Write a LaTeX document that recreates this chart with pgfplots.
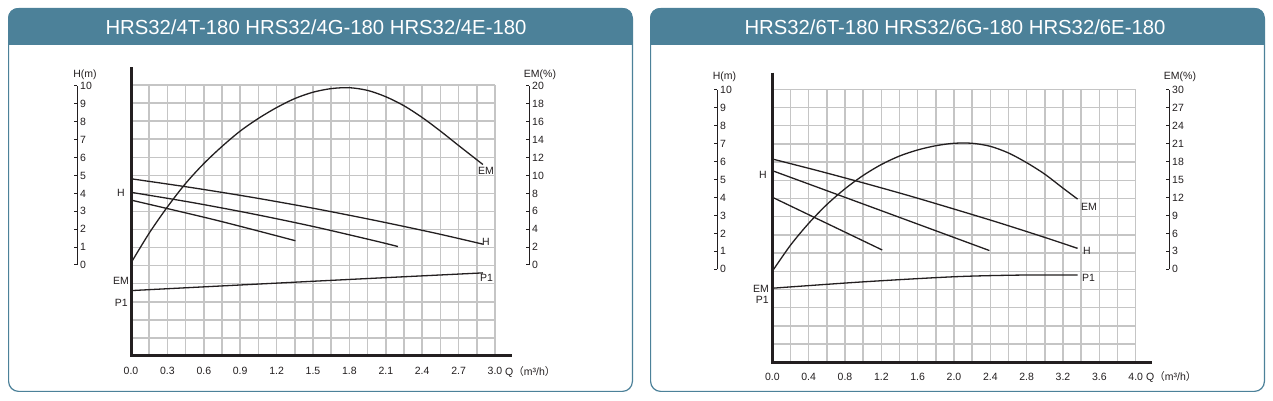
\documentclass[border=0pt]{standalone}
\usepackage{fontspec}
\setmainfont{Liberation Sans}
\newfontfamily\cjk{Noto Sans CJK SC}
\usepackage{pgfplots}
\pgfplotsset{compat=1.18}
\definecolor{hdr}{RGB}{76,129,153}
\definecolor{gridc}{RGB}{197,197,197}
\definecolor{ink}{RGB}{35,31,32}
\newcommand{\fs}{\fontsize{10.5}{12}\selectfont}
\newcommand{\ts}{\fontsize{20.3}{24}\selectfont}

\pgfplotsset{
  gridaxis/.style={
    scale only axis, anchor=south west, clip=false,
    ymin=-5, ymax=10, ytick={-5,-4,...,10}, yticklabels={},
    axis line style={draw=none},
    major tick length=0pt, minor tick length=0pt,
    grid=both, minor x tick num=1,
    major grid style={gridc, line width=1.5pt},
    minor grid style={gridc, line width=1.5pt},
    xticklabel style={font=\fs, inner sep=0pt, yshift=-11pt, text=ink},
  },
  emaxis/.style={scale only axis, anchor=south west, hide axis, clip=false},
  scaleaxis/.style={
    scale only axis, width=4pt, anchor=south east, hide x axis,
    axis y line*=right, tick align=inside, major tick length=3.5pt,
    xmin=0, xmax=1,
    y axis line style={ink, line width=1pt, -},
    ytick style={ink, line width=1pt},
    /pgf/number format/assume math mode=true,
    yticklabel style={font=\fs, inner sep=0pt, xshift=3pt, text=ink},
  },
  curve/.style={ink, line width=1.3pt, no marks, smooth},
}

\begin{document}
\begin{tikzpicture}[x=1pt, y=1pt]
\useasboundingbox (0,0) rectangle (1273,401);
\fill[white] (0,0) rectangle (1273,401);

% ---------- Panel frames ----------
\begin{scope}
  \clip[rounded corners=10pt] (8,9) rectangle (633,393);
  \fill[hdr] (8,356) rectangle (633,393);
\end{scope}
\draw[hdr, line width=1.2pt, rounded corners=10pt] (8.6,9.6) rectangle (632.4,392.4);
\node[text=white, font=\ts] at (316,374) {HRS32/4T-180 HRS32/4G-180 HRS32/4E-180};

\begin{scope}
  \clip[rounded corners=10pt] (650,9) rectangle (1265,393);
  \fill[hdr] (650,356) rectangle (1265,393);
\end{scope}
\draw[hdr, line width=1.2pt, rounded corners=10pt] (650.6,9.6) rectangle (1264.4,392.4);
\node[text=white, font=\ts] at (955,374) {HRS32/6T-180 HRS32/6G-180 HRS32/6E-180};

% ================= Panel 1 =================
\begin{axis}[gridaxis, at={(131pt,45pt)}, width=364pt, height=271pt,
  xmin=0, xmax=3,
  xtick={0,0.3,0.6,0.9,1.2,1.5,1.8,2.1,2.4,2.7,3.0},
  xticklabels={0.0,0.3,0.6,0.9,1.2,1.5,1.8,2.1,2.4,2.7,3.0}]
  % H curves
  \addplot[curve] coordinates {(0,4.81) (0.5,4.32) (1.0,3.78) (1.5,3.18) (2.0,2.52) (2.5,1.81) (2.9,1.19)};
  \addplot[curve] coordinates {(0,4.06) (0.5,3.50) (1.0,2.87) (1.5,2.17) (2.0,1.39) (2.2,1.06)};
  \addplot[curve] coordinates {(0,3.63) (0.7,2.52) (1.355,1.38)};
  % P1 curve
  \addplot[curve] coordinates {(0,-1.38) (1.6,-0.83) (2.9,-0.40)};
  \draw[ink, line width=3pt] (rel axis cs:0,1.066) -- (rel axis cs:0,0) -- (rel axis cs:1.047,0);
\end{axis}
\begin{axis}[emaxis, at={(131pt,45pt)}, width=364pt, height=271pt,
  xmin=0, xmax=3, ymin=-10, ymax=20]
  \addplot[curve] coordinates {(0,0.3) (0.15,3.6) (0.3,6.5) (0.45,9.1) (0.6,11.3) (0.75,13.2) (0.9,14.9) (1.05,16.3) (1.2,17.5) (1.35,18.5) (1.5,19.2) (1.65,19.6) (1.8,19.7) (1.95,19.4) (2.1,18.7) (2.25,17.7) (2.4,16.4) (2.55,14.9) (2.7,13.3) (2.9,11.2)};
\end{axis}
% H scale
\begin{axis}[scaleaxis, at={(77pt,136pt)}, height=179pt, ymin=0, ymax=10, ytick={0,1,...,10}]
  \addplot[draw=none] coordinates {(0.5,5)};
\end{axis}
% EM scale
\begin{axis}[scaleaxis, at={(529pt,136pt)}, height=179pt, ymin=0, ymax=20, ytick={0,2,...,20}]
  \addplot[draw=none] coordinates {(0.5,5)};
\end{axis}
\node[font=\fs, text=ink] at (85,326) {H(m)};
\node[font=\fs, text=ink] at (540,326) {EM(\%)};
\node[font=\fs, text=ink, anchor=west, inner sep=0pt] at (505,29) {Q{\cjk （}m³/h{\cjk ）}};
\node[font=\fs, text=ink, anchor=east, inner sep=0pt] at (125,208) {H};
\node[font=\fs, text=ink, anchor=east, inner sep=0pt] at (129,120) {EM};
\node[font=\fs, text=ink, anchor=east, inner sep=0pt] at (128,98) {P1};
\node[font=\fs, text=ink, anchor=west, inner sep=0pt] at (478,230.3) {EM};
\node[font=\fs, text=ink, anchor=west, inner sep=0pt] at (482,159.3) {H};
\node[font=\fs, text=ink, anchor=west, inner sep=0pt] at (480,123.3) {P1};

% ================= Panel 2 =================
\begin{axis}[gridaxis, at={(772.3pt,38.7pt)}, width=363.4pt, height=273pt,
  xmin=0, xmax=4,
  xtick={0,0.4,0.8,1.2,1.6,2.0,2.4,2.8,3.2,3.6,4.0},
  xticklabels={0.0,0.4,0.8,1.2,1.6,2.0,2.4,2.8,3.2,3.6,4.0}]
  \addplot[curve] coordinates {(0,6.17) (0.5,5.53) (1.0,4.86) (1.5,4.16) (2.0,3.42) (2.5,2.66) (3.0,1.86) (3.36,1.26)};
  \addplot[curve] coordinates {(0,5.53) (1.2,3.33) (2.39,1.14)};
  \addplot[curve] coordinates {(0,4.07) (1.21,1.17)};
  \addplot[curve] coordinates {(0,-0.93) (1.0,-0.58) (2.0,-0.30) (2.7,-0.21) (3.36,-0.20)};
  \draw[ink, line width=3pt] (rel axis cs:0,1.061) -- (rel axis cs:0,0) -- (rel axis cs:1.045,0);
\end{axis}
\begin{axis}[emaxis, at={(772.3pt,38.7pt)}, width=363.4pt, height=273pt,
  xmin=0, xmax=4, ymin=-15, ymax=30]
  \addplot[curve] coordinates {(0,0) (0.2,4.3) (0.4,7.9) (0.6,11.0) (0.8,13.6) (1.0,15.8) (1.2,17.6) (1.4,19.0) (1.6,20.0) (1.8,20.7) (2.0,21.1) (2.2,21.1) (2.4,20.6) (2.6,19.5) (2.8,17.9) (3.0,16.0) (3.2,13.7) (3.36,11.9)};
\end{axis}
\begin{axis}[scaleaxis, at={(717pt,131.7pt)}, height=179.3pt, ymin=0, ymax=10, ytick={0,1,...,10}]
  \addplot[draw=none] coordinates {(0.5,5)};
\end{axis}
\begin{axis}[scaleaxis, at={(1169pt,131.7pt)}, height=179.3pt, ymin=0, ymax=30, ytick={0,3,...,30}]
  \addplot[draw=none] coordinates {(0.5,5)};
\end{axis}
\node[font=\fs, text=ink] at (724.5,324.3) {H(m)};
\node[font=\fs, text=ink] at (1180,324.3) {EM(\%)};
\node[font=\fs, text=ink, anchor=west, inner sep=0pt] at (1146,24) {Q{\cjk （}m³/h{\cjk ）}};
\node[font=\fs, text=ink, anchor=east, inner sep=0pt] at (767,226) {H};
\node[font=\fs, text=ink, anchor=east, inner sep=0pt] at (769,112.3) {EM};
\node[font=\fs, text=ink, anchor=east, inner sep=0pt] at (769,101) {P1};
\node[font=\fs, text=ink, anchor=west, inner sep=0pt] at (1081,194) {EM};
\node[font=\fs, text=ink, anchor=west, inner sep=0pt] at (1083,150.3) {H};
\node[font=\fs, text=ink, anchor=west, inner sep=0pt] at (1082,123.3) {P1};
\end{tikzpicture}
\end{document}
